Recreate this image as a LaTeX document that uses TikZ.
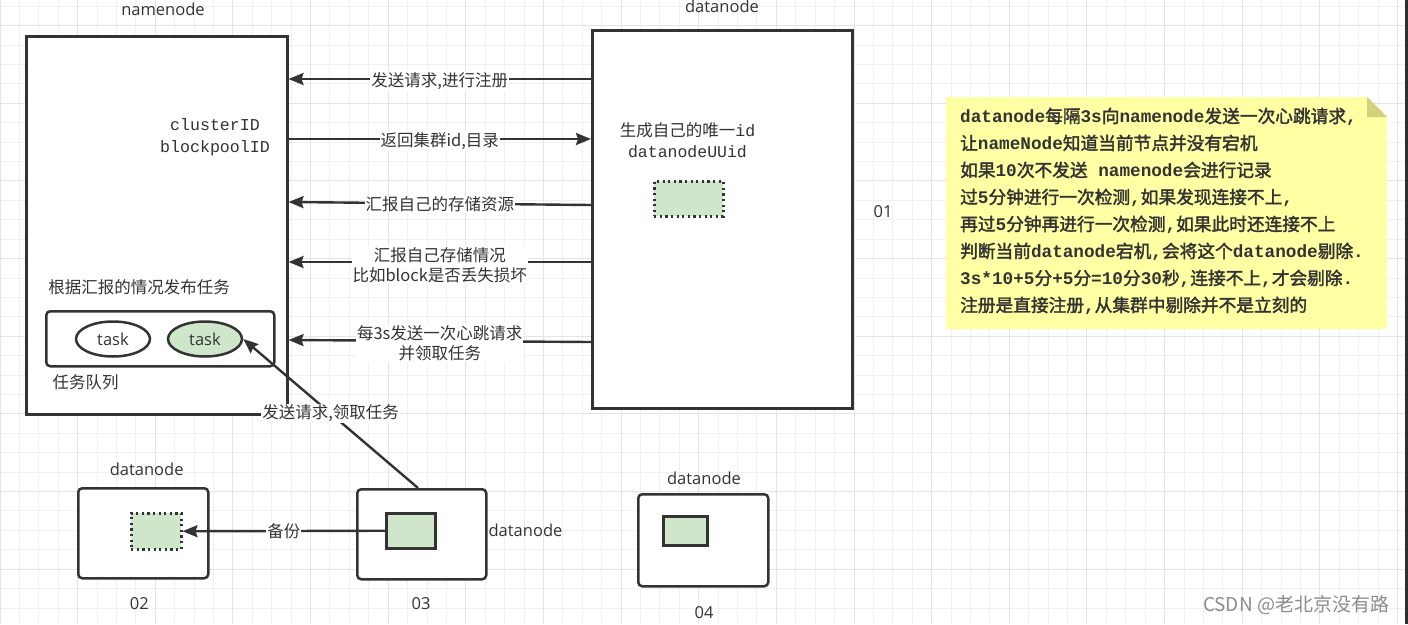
\documentclass[tikz,border=0pt]{standalone}
\usepackage{fontspec}
\setmainfont{Noto Sans CJK SC}
\newfontfamily\cjk{Noto Sans CJK SC}
\newfontfamily\cjkB{Noto Sans CJK SC}[FakeBold=2]
\newfontfamily\os{Open Sans}
\newfontfamily\mono{Liberation Mono}
\usetikzlibrary{arrows.meta,shapes.geometric}
\definecolor{c33}{HTML}{333333}
\definecolor{gmin}{HTML}{F0F0F0}
\definecolor{gmaj}{HTML}{E4E4E4}
\definecolor{grn}{HTML}{CFE6CB}
\definecolor{notey}{HTML}{FFFFA3}
\definecolor{foldc}{HTML}{D4D07C}
\definecolor{wm}{HTML}{8C8C8C}
\definecolor{barc}{HTML}{2E2E32}
\newcommand\Mo[1]{{\mono\bfseries #1}}
\begin{document}
\begin{tikzpicture}[x=1pt,y=-1pt,
  gminor/.style={draw=gmin, line width=1pt},
  gmajor/.style={draw=gmaj, line width=1pt},
  box/.style={draw=c33, line width=2.5pt, fill=white, inner sep=0pt, anchor=north west},
  rbox/.style={box, rounded corners=4pt},
  grect/.style={draw=c33, line width=2.5pt, fill=grn, inner sep=0pt, anchor=north west},
  drect/.style={grect, dash pattern=on 2.2pt off 3.4pt},
  arr/.style={draw=c33, line width=2.4pt, -{Stealth[length=15pt,width=12pt,inset=2pt]}},
  lbl/.style={fill=white, inner sep=1pt, text=c33, font=\cjk\fontsize{16.5}{20.5}\selectfont, align=center},
  txt/.style={text=c33, inner sep=0pt, font=\cjk\fontsize{16.5}{20.5}\selectfont, align=center},
  lat/.style={text=c33, inner sep=0pt, font=\os\fontsize{16.5}{20}\selectfont, align=center},
  mtxt/.style={text=c33, inner sep=0pt, font=\mono\fontsize{16.6}{21.7}\selectfont, align=center}]
\useasboundingbox (0,0) rectangle (1408,624);
\fill[white] (0,0) rectangle (1408,624);
% grid
\foreach \i in {0,...,72} \draw[gminor] ({\i*19.41},0) -- ({\i*19.41},624);
\foreach \j in {0,...,31} \draw[gminor] (0,{6.3+\j*19.41}) -- (1408,{6.3+\j*19.41});
\foreach \i in {0,...,18} \draw[gmajor] ({\i*77.64},0) -- ({\i*77.64},624);
\foreach \j in {0,...,7} \draw[gmajor] (0,{25.7+\j*77.64}) -- (1408,{25.7+\j*77.64});
\fill[barc] (1405,0) rectangle (1408,624);

% namenode
\node[box, minimum width=261pt, minimum height=378pt] (nn) at (25,35) {};
\node[lat] (nnlab) at (163,9) {namenode};
\node[mtxt] (ids) at (215,137.5) {clusterID\\blockpoolID};
\node[txt] (plan) at (139,287.5) {根据汇报的情况发布任务};
\node[rbox, minimum width=228pt, minimum height=55pt] (queue) at (45,310) {};
\node[ellipse, draw=c33, line width=2.5pt, fill=white, minimum width=74pt, minimum height=35pt, inner sep=0pt, font=\os\fontsize{16.5}{20}\selectfont, text=c33] (t1) at (113,339) {task};
\node[ellipse, draw=c33, line width=2.5pt, fill=grn, minimum width=74pt, minimum height=35pt, inner sep=0pt, font=\os\fontsize{16.5}{20}\selectfont, text=c33] (t2) at (205,339) {task};
\node[txt] (qlab) at (85.5,382) {任务队列};

% datanode 01
\node[box, minimum width=260pt, minimum height=378pt] (dn) at (591,29) {};
\node[lat] (dnlab) at (722,6) {datanode};
\node[txt] (uidtxt) at (687.5,140) {生成自己的唯一{\mono id}\\{\mono datanodeUUid}};
\node[drect, minimum width=69pt, minimum height=35pt] (uid) at (653,180) {};
\node[lat] (n01) at (883,212) {01};

% arrows between namenode and datanode
\coordinate (y1) at (0,79);
\coordinate (y2) at (0,139);
\coordinate (y3r) at (0,205);
\coordinate (y3l) at (0,202);
\coordinate (y4) at (0,262);
\coordinate (y5r) at (0,342);
\coordinate (y5l) at (0,340);
\draw[arr] (dn.west |- y1) -- (nn.east |- y1) node[lbl, midway, yshift=-2pt] {发送请求,进行注册};
\draw[arr] (nn.east |- y2) -- (dn.west |- y2) node[lbl, midway, yshift=-2pt] {返回集群id,目录};
\draw[arr] (dn.west |- y3r) -- (nn.east |- y3l) node[lbl, midway, yshift=-1pt] {汇报自己的存储资源};
\draw[arr] (dn.west |- y4) -- (nn.east |- y4) node[lbl, midway, yshift=-3pt] {汇报自己存储情况\\比如block是否丢失损坏};
\draw[arr] (dn.west |- y5r) -- (nn.east |- y5l) node[lbl, midway, yshift=-2pt] {每3s发送一次心跳请求\\并领取任务};

% small datanodes
\node[rbox, minimum width=130pt, minimum height=90pt] (dn2) at (77,487) {};
\node[drect, minimum width=50pt, minimum height=36pt] (r2) at (130,512) {};
\node[lat] (dn2lab) at (146.7,469) {datanode};
\node[lat] (n02) at (139.3,604) {02};

\node[rbox, minimum width=129pt, minimum height=90pt] (dn3) at (356,488) {};
\node[grect, minimum width=49pt, minimum height=35pt] (r3) at (385,512) {};
\node[lat] (dn3lab) at (525.5,530) {datanode};
\node[lat] (n03) at (421,604) {03};

\node[rbox, minimum width=130pt, minimum height=92pt] (dn4) at (637,493) {};
\node[grect, minimum width=44pt, minimum height=29pt] (r4) at (662,515) {};
\node[lat] (dn4lab) at (704,478) {datanode};
\node[lat] (n04) at (704,613) {04};

\coordinate (s3) at (418,488);
\draw[arr] (s3) -- (t2.east) node[lbl, pos=0.5] {发送请求,领取任务};
\draw[arr] (r3.west) -- (r2.east) node[lbl, midway] {备份};

% note
\fill[notey] (946,97) -- (1367,97) -- (1387,117) -- (1387,329) -- (946,329) -- cycle;
\fill[foldc] (1367,97) -- (1387,117) -- (1367,117) -- cycle;
\node[anchor=north west, inner sep=0pt, align=left, text=c33, font=\cjkB\fontsize{17.7}{27}\selectfont] (note) at (960,107.5) {%
\Mo{datanode}每隔\Mo{3s}向\Mo{namenode}发送一次心跳请求\Mo{,}\\
让\Mo{nameNode}知道当前节点并没有宕机\\
如果\Mo{10}次不发送\Mo{\ namenode}会进行记录\\
过\Mo{5}分钟进行一次检测\Mo{,}如果发现连接不上\Mo{,}\\
再过\Mo{5}分钟再进行一次检测\Mo{,}如果此时还连接不上\\
判断当前\Mo{datanode}宕机\Mo{,}会将这个\Mo{datanode}剔除\Mo{.}\\
\Mo{3s*10+5}分\Mo{+5}分\Mo{=10}分\Mo{30}秒\Mo{,}连接不上\Mo{,}才会剔除\Mo{.}\\
注册是直接注册\Mo{,}从集群中剔除并不是立刻的};

% watermark
\node[text=wm, inner sep=0pt, font=\cjk\fontsize{19}{22}\selectfont] (wmk) at (1296,605) {CSDN @老北京没有路};
\end{tikzpicture}
\end{document}
